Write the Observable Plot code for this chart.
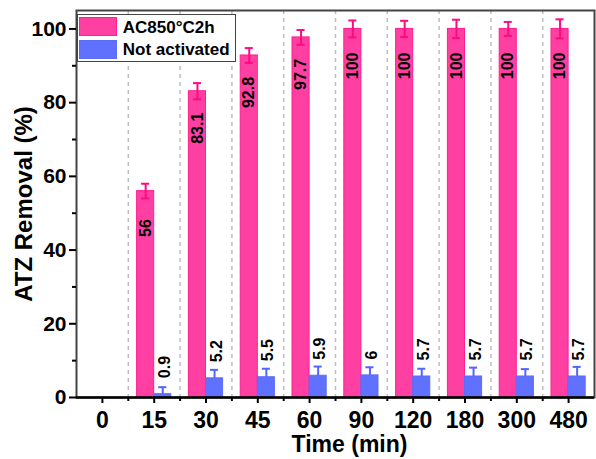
<!DOCTYPE html>
<html><head><meta charset="utf-8">
<script src="https://cdn.jsdelivr.net/npm/d3@7"></script>
<script src="https://cdn.jsdelivr.net/npm/@observablehq/plot@0.6"></script>
<style>
body{margin:0;background:#fff;}
#wrap{position:relative;width:596px;height:459px;font-family:"Liberation Sans",Arial,sans-serif;font-weight:bold;}
#legend{position:absolute;left:77px;top:14px;width:159px;height:48px;border:1.5px solid #444;box-sizing:border-box;background:#fff;}
#legend .sw{position:absolute;left:0.5px;width:38px;height:19px;}
#legend .lb{position:absolute;left:44.8px;font-size:17px;line-height:20px;color:#000;white-space:nowrap;}
</style></head><body>
<div id="wrap"></div>
<script>
const times = ["0","15","30","45","60","90","120","180","300","480"];
const acValues = [null, 56, 83.1, 92.8, 97.7, 100, 100, 100, 100, 100];
const acErrors = [null, 2.0, 2.2, 2.0, 2.0, 2.3, 2.2, 2.5, 1.9, 2.6];
const naValues = [null, 0.9, 5.2, 5.5, 5.9, 6, 5.7, 5.7, 5.7, 5.7];
const naErrors = [null, 1.9, 2.3, 2.3, 2.5, 2.2, 2.1, 2.4, 2.0, 2.6];
const seriesNames = ["AC850°C2h", "Not activated"];
const yTicks = [0, 20, 40, 60, 80, 100];
const yMinorTicks = [10, 30, 50, 70, 90];

const colors = {
  acFill: "#ff40a2", acStroke: "#ff1f90", acErr: "#ff0a80",
  naFill: "#6070ff", naStroke: "#5c6cf8", naErr: "#5464ff"
};
const barW = 0.33, capW = 0.078;

const acRows = [], naRows = [];
times.forEach((t, i) => {
  if (acValues[i] != null) acRows.push({i, v: acValues[i], e: acErrors[i], c: i - barW / 2, x1: i - barW, x2: i});
  if (naValues[i] != null) naRows.push({i, v: naValues[i], e: naErrors[i], c: i + barW / 2, x1: i, x2: i + barW});
});
const idx = d3.range(times.length);
const bounds = d3.range(1, times.length).map(i => i - 0.5);

const chart = Plot.plot({
  width: 596, height: 459,
  marginLeft: 76, marginRight: 2, marginTop: 10, marginBottom: 62,
  x: {type: "linear", domain: [-0.5, times.length - 0.5]},
  y: {domain: [0, 105]},
  style: {fontFamily: "'Liberation Sans', Arial, sans-serif", fontWeight: "bold", color: "#000", background: "#fff", overflow: "visible"},
  marks: [
    Plot.ruleX(bounds, {stroke: "#bdbdbd", strokeWidth: 1.5, strokeDasharray: "4,4"}),
    // blue error bars (behind bars)
    Plot.ruleX(naRows, {x: "c", y1: d => Math.max(0, d.v - d.e), y2: d => d.v + d.e, stroke: colors.naErr, strokeWidth: 2}),
    Plot.ruleY(naRows, {y: d => d.v + d.e, x1: d => d.c - capW, x2: d => d.c + capW, stroke: colors.naErr, strokeWidth: 2}),
    Plot.rectY(acRows, {x1: "x1", x2: "x2", y1: 0, y2: "v", fill: colors.acFill, stroke: colors.acStroke, strokeWidth: 1}),
    Plot.rectY(naRows, {x1: "x1", x2: "x2", y1: 0, y2: "v", fill: colors.naFill, stroke: colors.naStroke, strokeWidth: 1}),
    // pink error bars
    Plot.ruleX(acRows, {x: "c", y1: d => d.v - d.e, y2: d => d.v + d.e, stroke: colors.acErr, strokeWidth: 2}),
    Plot.ruleY(acRows, {y: d => d.v + d.e, x1: d => d.c - capW, x2: d => d.c + capW, stroke: colors.acErr, strokeWidth: 2}),
    Plot.ruleY(acRows, {y: d => d.v - d.e, x1: d => d.c - capW, x2: d => d.c + capW, stroke: colors.acErr, strokeWidth: 2}),
    // value labels
    Plot.text(acRows, {x: "c", y: "v", text: d => String(d.v), rotate: -90, dy: 37, fontSize: 16, fill: "#000"}),
    Plot.text(naRows, {x: "c", y: "v", text: d => String(d.v), rotate: -90, textAnchor: "start", dy: -16, dx: 2, fontSize: 16, fill: "#000"}),
    // frame and axes
    Plot.frame({stroke: "#444", strokeWidth: 2}),
    Plot.ruleY([0], {stroke: "#000", strokeWidth: 2.5}),
    Plot.axisX(idx, {tickFormat: i => times[i], tickSize: 6, tickPadding: 8, fontSize: 23, strokeWidth: 2, label: "Time (min)", labelAnchor: "center", labelOffset: 54, labelArrow: "none"}),
    Plot.axisX(bounds, {tickFormat: () => "", tickSize: 4, strokeWidth: 2, label: null}),
    Plot.axisY(yTicks, {tickSize: 7, tickPadding: 3, fontSize: 21, strokeWidth: 2, label: "ATZ Removal (%)", labelAnchor: "center", labelOffset: 62, labelArrow: "none"}),
    Plot.axisY(yMinorTicks, {tickFormat: () => "", tickSize: 4, strokeWidth: 2, label: null})
  ]
});
const wrap = document.getElementById("wrap");
wrap.appendChild(chart);
d3.select(chart).selectAll('g[aria-label="y-axis label"]').attr("font-size", 24);
d3.select(chart).selectAll('g[aria-label="x-axis label"]').each(function() {
  const g = d3.select(this);
  const t = g.attr("transform") || "";
  g.attr("font-size", 23).attr("transform", "translate(14,0) " + t);
});

// legend
const legend = document.createElement("div");
legend.id = "legend";
const legendItems = [
  {name: seriesNames[0], fill: colors.acFill, stroke: colors.acStroke},
  {name: seriesNames[1], fill: colors.naFill, stroke: colors.naStroke}
];
legendItems.forEach((it, k) => {
  const sw = document.createElement("div");
  sw.className = "sw";
  sw.style.top = (1.8 + k * 22.7) + "px";
  sw.style.background = it.fill;
  sw.style.border = "1px solid " + it.stroke;
  sw.style.boxSizing = "border-box";
  legend.appendChild(sw);
  const lb = document.createElement("div");
  lb.className = "lb";
  lb.style.top = (3.2 + k * 21.7) + "px";
  lb.textContent = it.name;
  legend.appendChild(lb);
});
wrap.appendChild(legend);
</script>
</body></html>
